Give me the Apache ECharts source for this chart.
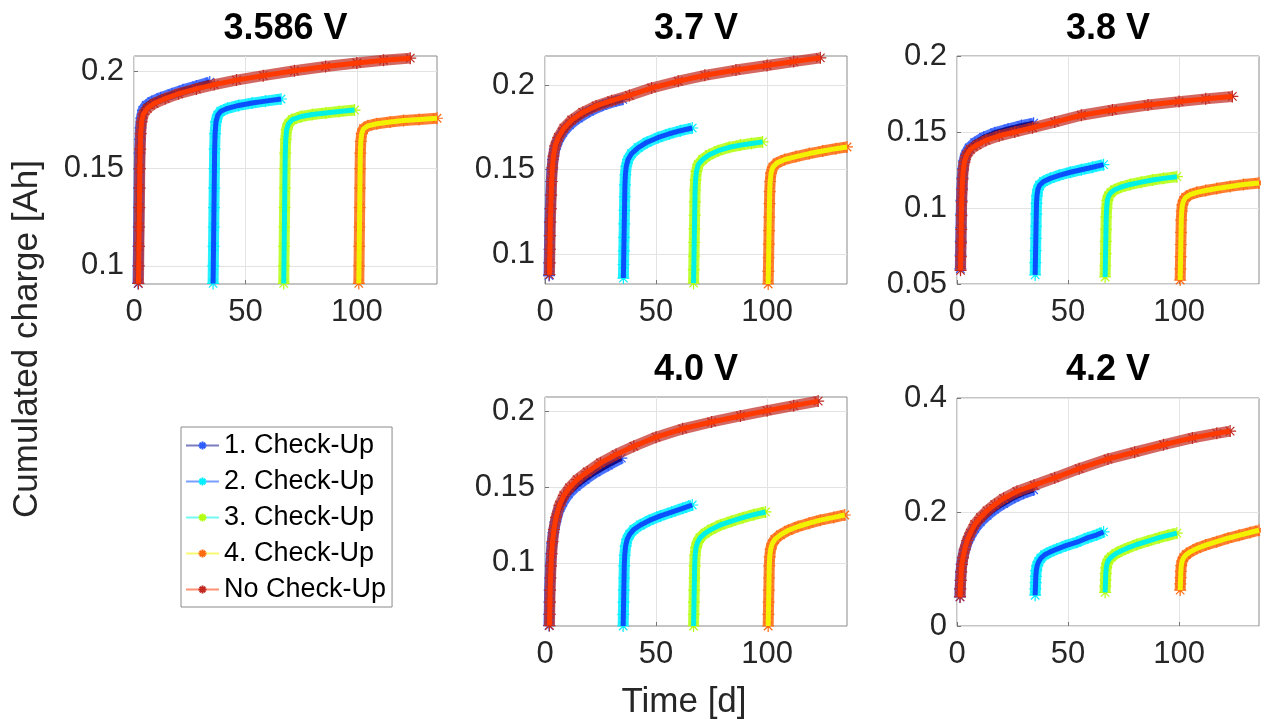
<!DOCTYPE html>
<html>
<head>
<meta charset="utf-8">
<title>Cumulated charge</title>
<script src="https://cdn.jsdelivr.net/npm/echarts@6/dist/echarts.min.js"></script>
<style>
  html, body { margin: 0; padding: 0; background: #fff; }
  #chart { width: 1261px; height: 724px; }
</style>
</head>
<body>
<div id="chart"></div>
<script>
// panel titles and series names
const panelTitles = ['3.586 V', '3.7 V', '3.8 V', '4.0 V', '4.2 V'];
const seriesNames = ['1. Check-Up', '2. Check-Up', '3. Check-Up', '4. Check-Up', 'No Check-Up'];

// axis ranges / tick labels per panel
const xTicks = [0, 50, 100];
const yMin = [0.0907, 0.0825, 0.05, 0.0583, 0];
const yMax = [0.2079, 0.2171, 0.2, 0.2095, 0.4];
const yTicks = [[0.1, 0.15, 0.2], [0.1, 0.15, 0.2], [0.05, 0.1, 0.15, 0.2], [0.1, 0.15, 0.2], [0, 0.2, 0.4]];

// ---- 3.586 V  ([time d, charge Ah])
const v3586_cu1 = [[1.8,0.091],[1.9,0.100],[2.0,0.110],[2.1,0.120],[2.2,0.130],[2.3,0.140],[2.4,0.150],[2.5,0.158],[2.7,0.165],[2.9,0.171],[3.3,0.176],[4,0.180],[5.5,0.1825],[8,0.1845],[12,0.1865],[17,0.1885],[22,0.1905],[28,0.1925],[34,0.1945]];
const v3586_cu2 = [[35.5,0.091],[35.6,0.100],[35.7,0.110],[35.8,0.120],[35.9,0.130],[36.0,0.140],[36.1,0.150],[36.2,0.160],[36.4,0.168],[36.8,0.174],[37.6,0.1775],[39,0.1795],[42,0.181],[47,0.1825],[53,0.1837],[59,0.1847],[66,0.1858]];
const v3586_cu3 = [[67.2,0.091],[67.3,0.100],[67.4,0.110],[67.5,0.120],[67.6,0.130],[67.7,0.140],[67.8,0.150],[67.9,0.158],[68.1,0.165],[68.5,0.170],[69.3,0.173],[71,0.1752],[75,0.1768],[80,0.1778],[86,0.1786],[92,0.1794],[99,0.1801]];
const v3586_cu4 = [[100.9,0.091],[101.0,0.100],[101.1,0.110],[101.2,0.120],[101.3,0.130],[101.4,0.140],[101.5,0.150],[101.6,0.158],[101.8,0.164],[102.2,0.168],[103,0.1705],[105,0.1720],[109,0.1731],[115,0.1740],[121,0.1747],[128,0.1753],[136,0.1759]];
const v3586_nocu = [[2.0,0.091],[2.1,0.100],[2.2,0.110],[2.3,0.120],[2.4,0.130],[2.5,0.140],[2.6,0.150],[2.8,0.160],[3.0,0.168],[3.4,0.174],[4.2,0.178],[6,0.181],[9,0.1835],[14,0.186],[20,0.1885],[28,0.191],[36,0.1932],[46,0.1955],[58,0.1978],[72,0.2003],[86,0.2025],[100,0.2043],[112,0.2057],[124,0.2068]];

// ---- 3.7 V
const v37_cu1 = [[1.8,0.0875],[1.9,0.095],[2.0,0.103],[2.1,0.111],[2.2,0.119],[2.4,0.127],[2.6,0.135],[2.8,0.143],[3.1,0.150],[3.6,0.156],[4.4,0.162],[5.8,0.167],[8,0.172],[11,0.1765],[15,0.1805],[20,0.1845],[26,0.188],[32,0.1905],[35,0.1915]];
const v37_cu2 = [[35.3,0.086],[35.4,0.094],[35.5,0.102],[35.6,0.110],[35.7,0.118],[35.8,0.126],[35.9,0.134],[36.0,0.141],[36.2,0.147],[36.6,0.152],[37.4,0.156],[39,0.1595],[42,0.163],[46,0.1662],[51,0.169],[56,0.1712],[61,0.173],[66.3,0.1746]];
const v37_cu3 = [[66.9,0.083],[67.0,0.091],[67.1,0.099],[67.2,0.107],[67.3,0.115],[67.4,0.123],[67.5,0.131],[67.6,0.138],[67.8,0.144],[68.2,0.149],[69,0.153],[71,0.156],[74,0.1588],[78,0.1612],[83,0.1632],[88,0.1645],[93,0.1655],[98,0.1664]];
const v37_cu4 = [[100.5,0.0825],[100.6,0.090],[100.7,0.098],[100.8,0.106],[100.9,0.114],[101.0,0.122],[101.1,0.130],[101.2,0.137],[101.4,0.143],[101.8,0.148],[102.6,0.1515],[104.5,0.1540],[108,0.1560],[113,0.1577],[119,0.1595],[125,0.1610],[131,0.1624],[136,0.1634]];
const v37_nocu = [[2.0,0.088],[2.1,0.095],[2.2,0.103],[2.3,0.111],[2.4,0.119],[2.6,0.127],[2.8,0.135],[3.0,0.143],[3.3,0.151],[3.8,0.158],[4.6,0.164],[6,0.169],[8.5,0.1745],[12,0.1793],[17,0.1838],[23,0.1876],[30,0.1907],[38,0.1938],[48,0.1982],[60,0.2022],[72,0.2057],[86,0.2088],[100,0.2115],[112,0.2138],[124,0.216]];

// ---- 3.8 V
const v38_cu1 = [[1.5,0.060],[1.6,0.069],[1.7,0.078],[1.8,0.087],[1.9,0.096],[2.0,0.105],[2.2,0.113],[2.4,0.120],[2.7,0.126],[3.2,0.131],[4,0.1355],[5.5,0.1395],[8,0.1430],[12,0.1465],[17,0.1495],[23,0.1520],[29,0.1542],[34.5,0.1558]];
const v38_cu2 = [[35.2,0.056],[35.3,0.064],[35.4,0.072],[35.5,0.080],[35.6,0.088],[35.7,0.096],[35.8,0.103],[36.0,0.108],[36.4,0.112],[37.2,0.1150],[39,0.1175],[42,0.1195],[46,0.1215],[51,0.1235],[56,0.1252],[61,0.1268],[66,0.1285]];
const v38_cu3 = [[66.7,0.0546],[66.8,0.062],[66.9,0.070],[67.0,0.078],[67.1,0.086],[67.2,0.094],[67.4,0.100],[67.7,0.105],[68.3,0.108],[69.3,0.1100],[71,0.1120],[74,0.1138],[78,0.1155],[83,0.1170],[88,0.1184],[93,0.1195],[99,0.1206]];
const v38_cu4 = [[100.5,0.0526],[100.6,0.060],[100.7,0.068],[100.8,0.076],[100.9,0.084],[101.0,0.092],[101.2,0.098],[101.5,0.102],[102.1,0.105],[103,0.1070],[105,0.1088],[108,0.1103],[112,0.1115],[117,0.1128],[123,0.1142],[129,0.1154],[136,0.1165]];
const v38_nocu = [[1.6,0.059],[1.7,0.068],[1.8,0.077],[1.9,0.086],[2.0,0.095],[2.1,0.104],[2.3,0.112],[2.5,0.119],[2.8,0.125],[3.3,0.130],[4.2,0.1345],[6,0.1385],[9,0.1415],[13,0.1445],[19,0.1475],[26,0.150],[34,0.1528],[44,0.1565],[56,0.1610],[70,0.1645],[86,0.1678],[100,0.1700],[112,0.1718],[124,0.1734]];

// ---- 4.0 V
const v40_cu1 = [[1.8,0.0586],[1.9,0.066],[2.0,0.074],[2.1,0.082],[2.3,0.090],[2.5,0.098],[2.8,0.106],[3.2,0.113],[3.8,0.120],[4.7,0.127],[6,0.134],[8,0.140],[10.5,0.1455],[14,0.1505],[18,0.1550],[23,0.1600],[28.5,0.1645],[34.4,0.1691]];
const v40_cu2 = [[35.2,0.0583],[35.3,0.066],[35.4,0.074],[35.5,0.082],[35.6,0.090],[35.7,0.098],[35.9,0.105],[36.3,0.111],[37,0.1155],[38.2,0.1190],[40,0.1220],[43,0.1250],[47,0.1280],[52,0.1310],[57,0.1335],[62,0.1360],[66.3,0.1382]];
const v40_cu3 = [[66.9,0.0583],[67.0,0.066],[67.1,0.074],[67.2,0.082],[67.3,0.090],[67.4,0.098],[67.6,0.105],[68.0,0.110],[68.7,0.1135],[69.8,0.1165],[72,0.1195],[75,0.1222],[79,0.1250],[84,0.1275],[89,0.1298],[94,0.1318],[99.3,0.1336]];
const v40_cu4 = [[100.5,0.0583],[100.6,0.066],[100.7,0.074],[100.8,0.082],[100.9,0.090],[101.0,0.098],[101.2,0.104],[101.6,0.109],[102.3,0.1125],[103.5,0.1155],[106,0.1185],[109.6,0.1215],[114,0.1240],[119,0.1262],[124,0.1282],[130,0.1300],[135,0.1316]];
const v40_nocu = [[2.0,0.0586],[2.1,0.066],[2.2,0.074],[2.3,0.082],[2.5,0.090],[2.7,0.098],[3.0,0.106],[3.4,0.114],[4.0,0.122],[5,0.130],[6.5,0.138],[8.5,0.1445],[11,0.1495],[14.5,0.1550],[19,0.1600],[25,0.1660],[32,0.1715],[40,0.1770],[50,0.1830],[62,0.1885],[75,0.1930],[88,0.1970],[100,0.2005],[112,0.2038],[123,0.2068]];

// ---- 4.2 V
const v42_cu1 = [[1.3,0.051],[1.4,0.065],[1.6,0.080],[1.8,0.095],[2.1,0.108],[2.6,0.120],[3.4,0.133],[4.5,0.146],[6,0.158],[8,0.171],[10.5,0.183],[13.5,0.194],[17,0.205],[21,0.215],[26,0.226],[30,0.233],[34.5,0.239]];
const v42_cu2 = [[35.2,0.054],[35.3,0.065],[35.4,0.076],[35.5,0.087],[35.7,0.097],[36.1,0.106],[36.8,0.113],[37.8,0.119],[39.5,0.125],[42,0.130],[45,0.135],[49,0.141],[54,0.147],[59,0.155],[63,0.160],[66,0.165]];
const v42_cu3 = [[66.7,0.059],[66.8,0.070],[66.9,0.081],[67.0,0.092],[67.2,0.102],[67.6,0.110],[68.3,0.116],[69.5,0.121],[71.5,0.127],[74,0.132],[77,0.137],[81,0.143],[86,0.149],[91,0.155],[95,0.159],[99,0.163]];
const v42_cu4 = [[100.5,0.063],[100.6,0.074],[100.7,0.085],[100.8,0.096],[101.0,0.106],[101.4,0.114],[102.1,0.120],[103.2,0.125],[105,0.130],[108,0.136],[112,0.142],[117,0.148],[122,0.154],[127,0.159],[132,0.164],[136,0.168]];
const v42_nocu = [[1.4,0.051],[1.5,0.065],[1.7,0.080],[1.9,0.095],[2.2,0.108],[2.7,0.120],[3.5,0.135],[4.6,0.150],[6,0.163],[8,0.178],[10.5,0.190],[13.5,0.202],[17,0.213],[21,0.224],[27,0.236],[34.7,0.247],[44,0.260],[55,0.276],[68,0.293],[80,0.305],[93,0.318],[106,0.330],[117,0.338],[123,0.342]];

const panelData = [
  [v3586_cu1, v3586_cu2, v3586_cu3, v3586_cu4, v3586_nocu],
  [v37_cu1, v37_cu2, v37_cu3, v37_cu4, v37_nocu],
  [v38_cu1, v38_cu2, v38_cu3, v38_cu4, v38_nocu],
  [v40_cu1, v40_cu2, v40_cu3, v40_cu4, v40_nocu],
  [v42_cu1, v42_cu2, v42_cu3, v42_cu4, v42_nocu]
];

// line colour / marker colour per series (jet-like)
const lineColors = ['#10108c', '#0a50ff', '#00f2e6', '#f2f200', '#ff3a00'];
const markColors = ['#2d5cff', '#00f0ff', '#b4ff10', '#ff6a10', '#c02820'];

const FONT = '"Liberation Sans", Arial, Helvetica, sans-serif';
const asterisk = 'path://M0,-10L0,10M-10,0L10,0M-7.07,-7.07L7.07,7.07M-7.07,7.07L7.07,-7.07';

const grids = [
  { left: 134, top: 56, width: 303, height: 228 },
  { left: 545, top: 56, width: 302, height: 228 },
  { left: 957, top: 56, width: 302, height: 228 },
  { left: 545, top: 397, width: 302, height: 229 },
  { left: 957, top: 398, width: 302, height: 228 }
];

let chartDom = document.getElementById('chart');
let myChart = echarts.init(chartDom);

let xAxes = [], yAxes = [], series = [], graphics = [];
grids.forEach((g, i) => {
  g.show = true;
  g.borderColor = '#8a8a8a';
  g.borderWidth = 1;
  g.backgroundColor = '#fff';

  xAxes.push({
    type: 'value', gridIndex: i, min: 0, max: 136,
    axisLine: { show: false },
    axisTick: { show: true, inside: true, length: 4, customValues: xTicks, lineStyle: { color: '#777' } },
    axisLabel: { customValues: xTicks, fontSize: 31, fontFamily: FONT, color: '#262626', margin: 13 },
    splitLine: { show: true, lineStyle: { color: '#e3e3e3', width: 1 } }
  });
  yAxes.push({
    type: 'value', gridIndex: i, min: yMin[i], max: yMax[i],
    axisLine: { show: false },
    axisTick: { show: true, inside: true, length: 4, customValues: yTicks[i], lineStyle: { color: '#777' } },
    axisLabel: { customValues: yTicks[i], fontSize: 31, fontFamily: FONT, color: '#262626', margin: 10 },
    splitLine: { show: true, lineStyle: { color: '#e3e3e3', width: 1 } }
  });

  panelData[i].forEach((d, s) => {
    // marker band (asterisks + wide translucent stroke) under the line
    series.push({
      type: 'line', name: seriesNames[s] + ' markers', xAxisIndex: i, yAxisIndex: i,
      z: 2 + 2 * s,
      data: d, symbol: asterisk, symbolSize: 12, showSymbol: true, silent: true, animation: false,
      lineStyle: { color: markColors[s], width: 11, opacity: s === 4 ? 0.7 : 0.85 },
      itemStyle: { color: markColors[s], borderColor: markColors[s], borderWidth: 1.2 }
    });
    series.push({
      type: 'line', name: seriesNames[s], xAxisIndex: i, yAxisIndex: i,
      z: 3 + 2 * s,
      data: d, symbol: asterisk, symbolSize: 10, showSymbol: false, animation: false,
      lineStyle: { color: lineColors[s], width: 5 },
      itemStyle: { color: markColors[s], borderColor: markColors[s], borderWidth: 1.2 }
    });
  });

  graphics.push({
    type: 'text', x: g.left + g.width / 2, y: i < 3 ? 29 : 370,
    style: { text: panelTitles[i], font: 'bold 36px ' + FONT, fill: '#000', textAlign: 'center', textVerticalAlign: 'middle' }
  });
});

graphics.push({
  type: 'text', x: 27, y: 339, rotation: Math.PI / 2,
  style: { text: 'Cumulated charge [Ah]', font: '35px ' + FONT, fill: '#262626', textAlign: 'center', textVerticalAlign: 'middle' }
});
graphics.push({
  type: 'text', x: 684, y: 702,
  style: { text: 'Time [d]', font: '35px ' + FONT, fill: '#262626', textAlign: 'center', textVerticalAlign: 'middle' }
});

let option = {
  animation: false,
  backgroundColor: '#fff',
  grid: grids,
  xAxis: xAxes,
  yAxis: yAxes,
  series: series,
  graphic: graphics,
  legend: {
    data: seriesNames,
    orient: 'vertical',
    left: 181, top: 427,
    z: 20,
    padding: [5, 6, 4, 4],
    itemWidth: 33, itemHeight: 10, itemGap: 9,
    backgroundColor: '#fff',
    borderColor: '#8a8a8a', borderWidth: 1, borderRadius: 0,
    lineStyle: { width: 2, opacity: 0.55 },
    textStyle: { fontSize: 27, fontFamily: FONT, color: '#000', lineHeight: 27 },
    selectedMode: false
  }
};
myChart.setOption(option);
window.addEventListener('resize', () => { myChart.resize(); });
</script>
</body>
</html>
